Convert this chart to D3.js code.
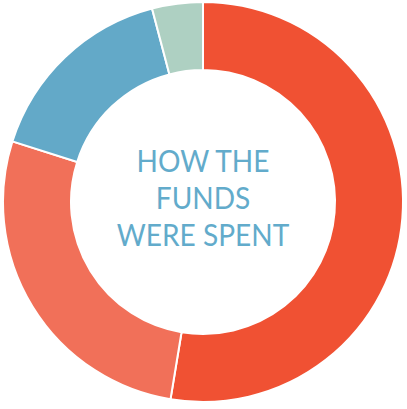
<!DOCTYPE html>
<html lang="en">
<head>
    <meta charset="UTF-8">
    <title>How the funds were spent</title>
    <script src="https://d3js.org/d3.v7.min.js"></script>
    <style>
        body {
            margin: 0;
            background: #fff;
        }
        .center-label {
            font-family: Lato, "Open Sans", sans-serif;
            font-weight: 400;
            font-size: 30.5px;
            fill: #62abcb;
        }
    </style>
</head>
<body>
<svg id="donut" width="407" height="409"></svg>

<script>
    // slices, clockwise from 12 o'clock (percent of total)
    const categories = ["A", "B", "C", "D"];
    const values = [52.6, 27.3, 16.0, 4.1];
    const colors = ["#f05133", "#f17059", "#63a9c8", "#aed0c2"];
    const titleLines = ["HOW THE", "FUNDS", "WERE SPENT"];

    const width = 407;
    const height = 409;
    const cx = 203;
    const cy = 202;
    const outerRadius = 200;
    const innerRadius = 132;

    const svg = d3.select("#donut")
        .attr("width", width)
        .attr("height", height);

    const g = svg.append("g")
        .attr("transform", `translate(${cx}, ${cy})`);

    const pie = d3.pie()
        .sort(null)
        .value(d => d.value);

    const arc = d3.arc()
        .innerRadius(innerRadius)
        .outerRadius(outerRadius);

    const data = categories.map((c, i) => ({ name: c, value: values[i], color: colors[i] }));

    g.selectAll("path")
        .data(pie(data))
        .enter()
        .append("path")
        .attr("d", arc)
        .attr("fill", d => d.data.color)
        .attr("stroke", "#fff")
        .attr("stroke-width", 2);

    const lineY = d3.scaleLinear()
        .domain([0, titleLines.length - 1])
        .range([172, 246]);

    // the original face is narrower than Lato, squeeze it a little
    svg.selectAll(".center-label")
        .data(titleLines)
        .enter()
        .append("text")
        .attr("class", "center-label")
        .attr("transform", (_, i) => `translate(${cx}, ${lineY(i)}) scale(0.92, 1)`)
        .attr("text-anchor", "middle")
        .text(d => d);
</script>
</body>
</html>
